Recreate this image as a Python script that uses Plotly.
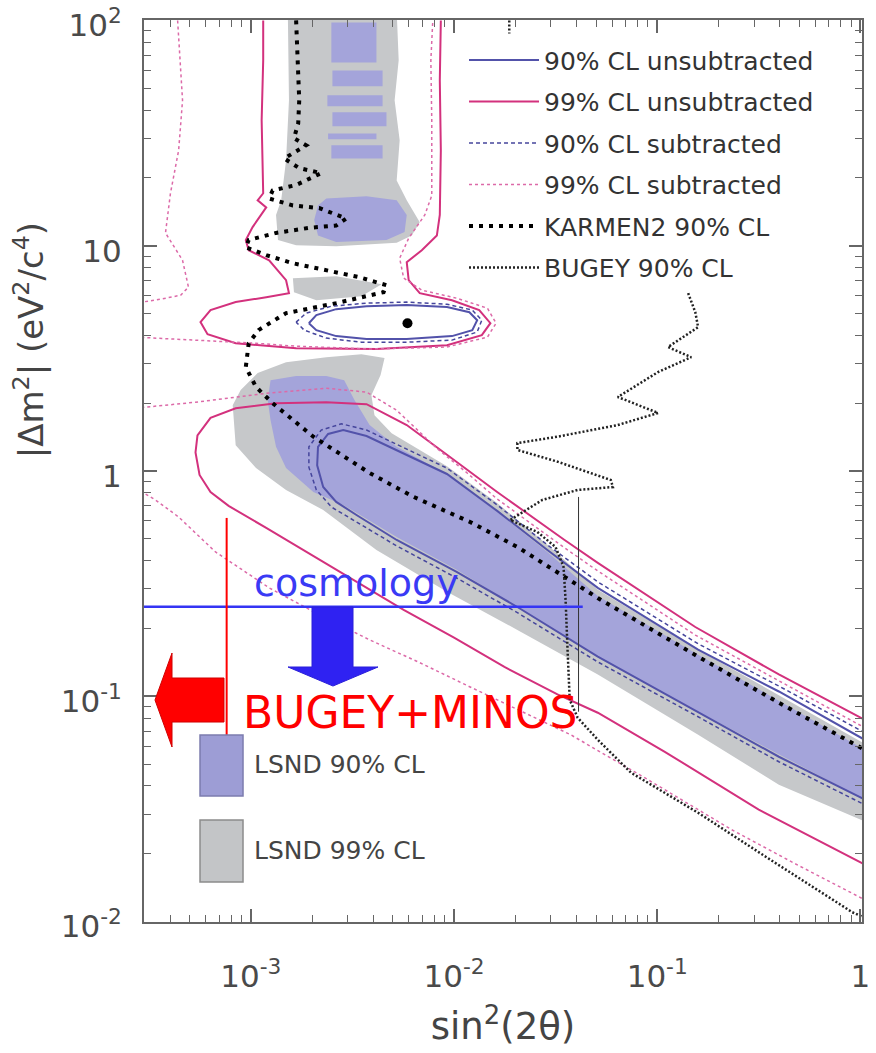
import plotly.graph_objects as go

# ---------------- data (sin^2(2theta), |dm^2| in eV^2/c^4) ----------------
# LSND 99% CL allowed regions (grey)
lsnd99_top_s2 = [1.52e-3, 5.22e-3, 5.34e-3, 5.10e-3, 5.40e-3, 5.22e-3, 5.85e-3, 6.78e-3, 6.19e-3,
                 5.22e-3, 2.63e-3, 1.67e-3, 1.36e-3, 1.33e-3, 1.41e-3, 1.49e-3, 1.54e-3]
lsnd99_top_dm2 = [110, 110, 66.5, 44.2, 29.4, 19.5, 15.9, 12.7, 11.1, 10.3, 9.95, 10.05, 10.6, 13.7,
                  15.9, 23.9, 44.2]
lsnd99_mid_s2 = [1.61e-3, 2.63e-3, 4.40e-3, 3.50e-3, 2.10e-3, 1.63e-3]
lsnd99_mid_dm2 = [7.18, 7.32, 6.75, 5.97, 5.73, 6.22]
lsnd99_band_s2 = [8.14e-4, 8.91e-4, 1.08e-3, 1.49e-3, 2.35e-3, 3.50e-3, 4.55e-3, 4.35e-3, 3.92e-3,
                  4.06e-3, 4.93e-3, 9.23e-3, 1.63e-2, 2.88e-2, 5.10e-2, 0.159, 1.05, 1.05, 0.397,
                  0.159, 5.10e-2, 2.05e-2, 9.23e-3, 4.15e-3, 2.27e-3, 1.49e-3, 1.06e-3, 8.42e-4]
lsnd99_band_dm2 = [1.96, 2.29, 2.72, 3.04, 3.20, 3.30, 3.17, 2.67, 2.17, 1.77, 1.47, 1.05, 0.721,
                   0.470, 0.297, 0.161, 0.0616, 0.0278, 0.0405, 0.0675, 0.125, 0.197, 0.291, 0.446,
                   0.672, 0.824, 1.03, 1.30]

# LSND 90% CL allowed regions (violet)
lsnd90_strips = [  # (s2 min, s2 max, dm2 min, dm2 max)
    (2.49e-3, 4.15e-3, 65.1, 98.0),
    (2.52e-3, 4.45e-3, 51.0, 60.0),
    (2.38e-3, 4.45e-3, 41.6, 46.5),
    (2.52e-3, 4.65e-3, 33.9, 39.1),
    (2.40e-3, 4.15e-3, 29.7, 31.5),
    (2.49e-3, 4.45e-3, 24.4, 27.9),
]
lsnd90_blob_s2 = [2.14e-3, 2.35e-3, 3.71e-3, 5.22e-3, 5.85e-3, 5.71e-3, 4.65e-3, 2.63e-3, 2.14e-3, 2.05e-3]
lsnd90_blob_dm2 = [15.1, 16.2, 16.6, 15.9, 13.7, 11.5, 10.6, 10.4, 11.1, 13.0]
lsnd90_band_s2 = [1.25e-3, 1.67e-3, 2.35e-3, 2.88e-3, 3.23e-3, 3.84e-3, 5.22e-3, 9.23e-3, 1.63e-2,
                  2.88e-2, 5.10e-2, 0.159, 1.05, 1.05, 0.159, 5.10e-2, 2.05e-2, 1.03e-2, 5.22e-3,
                  2.85e-3, 2.03e-3, 1.49e-3, 1.33e-3, 1.25e-3, 1.21e-3]
lsnd90_band_dm2 = [2.53, 2.64, 2.64, 2.53, 2.07, 1.60, 1.28, 0.970, 0.658, 0.437, 0.279, 0.153,
                   0.0579, 0.0348, 0.0854, 0.150, 0.249, 0.364, 0.510, 0.707, 0.807, 1.03, 1.28,
                   1.68, 2.07]

# 99% CL unsubtracted (solid magenta)
c99u_a_s2 = [1.15e-3, 1.15e-3, 1.13e-3, 1.15e-3, 1.08e-3, 1.19e-3, 1.02e-3, 9.44e-4, 9.76e-4, 1.23e-3,
             1.49e-3, 1.54e-3, 1.19e-3, 8.42e-4, 6.33e-4, 5.65e-4, 6.12e-4, 8.42e-4, 1.67e-3, 4.15e-3,
             9.23e-3, 1.37e-2, 1.51e-2, 1.33e-2, 9.77e-3, 6.78e-3, 5.98e-3, 5.85e-3, 6.94e-3, 8.23e-3,
             8.51e-3, 8.61e-3, 8.51e-3, 8.61e-3]
c99u_a_dm2 = [100, 66.5, 36.0, 17.1, 15.9, 14.8, 12.1, 10.6, 9.55, 8.62, 7.03, 6.16, 5.91, 5.62, 5.18,
              4.58, 4.05, 3.69, 3.51, 3.48, 3.62, 4.01, 4.53, 5.18, 5.73, 6.16, 7.03, 8.45, 9.55, 11.1,
              13.7, 26.5, 54.2, 100]
c99u_b_s2 = [1.05, 0.397, 0.154, 5.10e-2, 3.50e-2, 1.63e-2, 9.23e-3, 5.85e-3, 3.71e-3, 2.35e-3, 1.33e-3,
             8.42e-4, 6.33e-4, 5.46e-4, 5.34e-4, 5.59e-4, 6.33e-4, 7.77e-4, 1.19e-3, 1.81e-3, 3.20e-3,
             5.65e-3, 1.00e-2, 1.77e-2, 3.23e-2, 5.10e-2, 0.109, 0.316, 1.05]
c99u_b_dm2 = [0.0787, 0.125, 0.203, 0.391, 0.494, 0.807, 1.18, 1.60, 1.98, 2.02, 2.00, 1.90, 1.72,
              1.44, 1.21, 0.960, 0.807, 0.700, 0.559, 0.446, 0.329, 0.242, 0.182, 0.135, 0.102,
              0.0845, 0.0567, 0.0314, 0.0179]

# 99% CL subtracted (dotted pink)
c99s_a_s2 = [4.36e-4, 4.61e-4, 4.41e-4, 4.02e-4, 3.80e-4, 4.61e-4, 4.93e-4, 4.51e-4, 3.59e-4, 2.7e-4]
c99s_a_dm2 = [100, 44.2, 26.5, 17.1, 11.4, 8.62, 6.55, 6.03, 5.79, 5.56]
c99s_b_s2 = [2.7e-4, 5.34e-4, 1.06e-3, 1.67e-3, 3.84e-3, 9.23e-3, 1.46e-2, 1.61e-2, 1.46e-2, 1.03e-2,
             6.94e-3, 5.65e-3, 5.40e-3, 5.98e-3, 7.18e-3, 7.77e-3, 7.77e-3, 7.69e-3, 7.86e-3]
c99s_b_dm2 = [3.93, 3.81, 3.69, 3.58, 3.48, 3.55, 3.93, 4.53, 5.28, 5.85, 6.35, 7.18, 8.80, 10.8,
              13.7, 16.7, 36.0, 66.5, 100]
c99s_c_s2 = [2.7e-4, 5.34e-4, 1.23e-3, 2.35e-3, 3.71e-3, 5.22e-3, 8.23e-3, 1.16e-2, 1.63e-2, 3.50e-2,
             5.10e-2, 0.154, 1.05]
c99s_c_dm2 = [1.90, 2.02, 2.22, 2.33, 2.24, 1.86, 1.26, 0.980, 0.751, 0.456, 0.360, 0.187, 0.0725]
c99s_d_s2 = [2.7e-4, 3.39e-4, 4.41e-4, 6.70e-4, 1.23e-3, 2.17e-3, 3.84e-3, 6.78e-3, 1.20e-2, 2.12e-2,
             3.75e-2, 9.02e-2, 0.232, 0.498, 1.05]
c99s_d_dm2 = [0.841, 0.744, 0.625, 0.437, 0.303, 0.230, 0.178, 0.141, 0.110, 0.0862, 0.0675, 0.0426,
              0.0256, 0.0177, 0.0125]

# 90% CL unsubtracted (solid blue)
c90u_a_s2 = [1.93e-3, 2.10e-3, 2.63e-3, 3.71e-3, 5.85e-3, 9.23e-3, 1.19e-2, 1.30e-2, 1.23e-2, 9.77e-3,
             5.85e-3, 3.71e-3, 2.63e-3, 2.10e-3, 1.93e-3]
c90u_a_dm2 = [4.53, 4.92, 5.23, 5.39, 5.45, 5.34, 5.07, 4.67, 4.22, 3.97, 3.85, 3.85, 3.97, 4.22, 4.53]
c90u_b_s2 = [1.05, 0.397, 0.159, 5.10e-2, 2.88e-2, 1.63e-2, 9.23e-3, 5.22e-3, 3.71e-3, 2.85e-3, 2.40e-3,
             2.14e-3, 2.12e-3, 2.27e-3, 2.63e-3, 3.31e-3, 5.22e-3, 1.03e-2, 2.05e-2, 5.10e-2, 0.159,
             0.397, 1.05]
c90u_b_dm2 = [0.0641, 0.105, 0.161, 0.303, 0.446, 0.665, 0.970, 1.24, 1.43, 1.52, 1.46, 1.28, 1.06,
              0.849, 0.729, 0.638, 0.494, 0.357, 0.249, 0.150, 0.0854, 0.0539, 0.0348]

# 90% CL subtracted (dashed blue)
c90s_a_s2 = [1.67e-3, 1.87e-3, 2.49e-3, 3.71e-3, 5.85e-3, 9.23e-3, 1.23e-2, 1.37e-2, 1.30e-2, 9.77e-3,
             5.85e-3, 3.50e-3, 2.35e-3, 1.83e-3, 1.67e-3]
c90s_a_dm2 = [4.58, 5.02, 5.39, 5.56, 5.62, 5.50, 5.18, 4.67, 4.14, 3.81, 3.73, 3.73, 3.89, 4.22, 4.58]
c90s_b_s2 = [1.05, 0.397, 0.159, 5.10e-2, 2.88e-2, 1.63e-2, 9.23e-3, 5.22e-3, 3.71e-3, 2.79e-3, 2.22e-3,
             1.93e-3, 1.93e-3, 2.10e-3, 2.49e-3, 3.31e-3, 5.22e-3, 1.03e-2, 2.05e-2, 5.10e-2, 0.159,
             0.397, 1.05]
c90s_b_dm2 = [0.0689, 0.111, 0.171, 0.322, 0.470, 0.707, 1.03, 1.32, 1.52, 1.62, 1.52, 1.28, 1.04,
              0.824, 0.692, 0.594, 0.465, 0.335, 0.235, 0.142, 0.0811, 0.0512, 0.0330]

# KARMEN2 90% CL
karmen_s2 = [1.67e-3, 1.71e-3, 1.73e-3, 1.71e-3, 1.63e-3, 1.87e-3, 1.46e-3, 1.73e-3, 2.22e-3, 1.67e-3,
             1.28e-3, 1.23e-3, 1.61e-3, 2.17e-3, 2.95e-3, 2.63e-3, 1.93e-3, 1.33e-3, 9.76e-4, 9.44e-4,
             1.19e-3, 1.61e-3, 2.35e-3, 3.42e-3, 4.65e-3, 4.50e-3, 2.63e-3, 1.49e-3, 1.09e-3, 9.76e-4,
             9.44e-4, 1.06e-3, 1.28e-3, 2.03e-3, 3.84e-3, 6.33e-3, 1.20e-2, 2.05e-2, 3.50e-2, 5.10e-2,
             0.159, 0.397, 1.05]
karmen_dm2 = [100, 61.9, 44.2, 34.9, 30.0, 27.9, 24.4, 22.1, 21.0, 18.6, 17.6, 16.2, 15.1, 14.7, 13.2,
              12.3, 12.0, 11.4, 10.6, 9.85, 9.08, 8.36, 7.79, 7.25, 6.68, 6.22, 5.56, 5.02, 4.22, 3.69,
              2.89, 2.36, 2.00, 1.42, 0.980, 0.767, 0.594, 0.460, 0.339, 0.273, 0.150, 0.0936, 0.0579]

# BUGEY 90% CL
bugey_top_s2 = [1.87e-2, 1.87e-2]
bugey_top_dm2 = [100, 87.6]
bugey_s2 = [0.142, 0.154, 0.159, 0.139, 0.113, 0.147, 0.101, 0.0640, 0.101, 0.0640, 0.0323, 0.0205,
            0.0205, 0.0323, 0.0591, 0.0605, 0.0406, 0.0272, 0.0189, 0.0257, 0.0316, 0.0346, 0.0354,
            0.0362, 0.0371, 0.0406, 0.0510, 0.0743, 0.159, 0.342, 0.912, 1.05]
bugey_dm2 = [6.16, 5.07, 4.35, 4.01, 3.55, 3.20, 2.75, 2.13, 1.81, 1.60, 1.42, 1.33, 1.24, 1.10, 0.912,
             0.849, 0.824, 0.744, 0.606, 0.536, 0.460, 0.375, 0.268, 0.161, 0.0965, 0.0803, 0.0641,
             0.0458, 0.0304, 0.0194, 0.0110, 0.0104]
bugey_edge_s2 = [0.0410, 0.0410]
bugey_edge_dm2 = [0.767, 0.0854]

# best fit point
best_fit_s2 = [5.9e-3]
best_fit_dm2 = [4.53]

# overlaid limits
cosmology_dm2 = 0.25
cosmology_s2_span = [2.7e-4, 0.043]
bugey_minos_s2 = 7.6e-4
bugey_minos_dm2_span = [0.619, 0.0609]

legend_names = ["90% CL unsubtracted", "99% CL unsubtracted", "90% CL subtracted",
                "99% CL subtracted", "KARMEN2 90% CL", "BUGEY 90% CL"]
x_tickvals = [1e-3, 1e-2, 1e-1, 1]
x_ticktext = ["10<sup>-3</sup>", "10<sup>-2</sup>", "10<sup>-1</sup>", "1"]
y_tickvals = [1e-2, 1e-1, 1, 10, 100]
y_ticktext = ["10<sup>-2</sup>", "10<sup>-1</sup>", "1", "10", "10<sup>2</sup>"]


def chain(*parts):
    out = []
    for i, p in enumerate(parts):
        if i:
            out.append(None)
        out.extend(p)
    return out


def strip_polys(strips):
    xs, ys = [], []
    for (a, b, lo, hi) in strips:
        if xs:
            xs.append(None)
            ys.append(None)
        xs += [a, b, b, a, a]
        ys += [lo, lo, hi, hi, lo]
    return xs, ys


GREY = "#c6c8ca"
VIOLET = "#a4a4da"
MAGENTA = "#d3317d"
PINK = "#dc6aa8"
BLUE = "#5252aa"
DBLUE = "#45459c"

fig = go.Figure()

# filled regions
fig.add_trace(go.Scatter(x=chain(lsnd99_top_s2, lsnd99_mid_s2, lsnd99_band_s2),
                         y=chain(lsnd99_top_dm2, lsnd99_mid_dm2, lsnd99_band_dm2),
                         fill="toself", fillcolor=GREY, mode="none", showlegend=False,
                         hoverinfo="skip"))
sx, sy = strip_polys(lsnd90_strips)
fig.add_trace(go.Scatter(x=chain(sx, lsnd90_blob_s2, lsnd90_band_s2),
                         y=chain(sy, lsnd90_blob_dm2, lsnd90_band_dm2),
                         fill="toself", fillcolor=VIOLET, mode="none", showlegend=False,
                         hoverinfo="skip"))

# contour lines (added in legend order)
fig.add_trace(go.Scatter(x=chain(c90u_a_s2, c90u_b_s2), y=chain(c90u_a_dm2, c90u_b_dm2),
                         mode="lines", name=legend_names[0], legendgroup="a",
                         line=dict(color=BLUE, width=2), hoverinfo="skip"))
fig.add_trace(go.Scatter(x=chain(c99u_a_s2, c99u_b_s2), y=chain(c99u_a_dm2, c99u_b_dm2),
                         mode="lines", name=legend_names[1], legendgroup="b",
                         line=dict(color=MAGENTA, width=2), hoverinfo="skip"))
fig.add_trace(go.Scatter(x=chain(c90s_a_s2, c90s_b_s2), y=chain(c90s_a_dm2, c90s_b_dm2),
                         mode="lines", name=legend_names[2], legendgroup="c",
                         line=dict(color=DBLUE, width=1.5, dash="4px,3px"), hoverinfo="skip"))
fig.add_trace(go.Scatter(x=chain(c99s_a_s2, c99s_b_s2, c99s_c_s2, c99s_d_s2),
                         y=chain(c99s_a_dm2, c99s_b_dm2, c99s_c_dm2, c99s_d_dm2),
                         mode="lines", name=legend_names[3], legendgroup="d",
                         line=dict(color=PINK, width=1.5, dash="3px,3px"), hoverinfo="skip"))
fig.add_trace(go.Scatter(x=karmen_s2, y=karmen_dm2, mode="lines", name=legend_names[4],
                         legendgroup="e", line=dict(color="black", width=4, dash="4px,6px"),
                         hoverinfo="skip"))
fig.add_trace(go.Scatter(x=chain(bugey_top_s2, bugey_s2), y=chain(bugey_top_dm2, bugey_dm2),
                         mode="lines", name=legend_names[5], legendgroup="f",
                         line=dict(color="#222", width=2.5, dash="2px,2px"), hoverinfo="skip"))
fig.add_trace(go.Scatter(x=bugey_edge_s2, y=bugey_edge_dm2, mode="lines", showlegend=False,
                         line=dict(color="#333", width=1), hoverinfo="skip"))
fig.add_trace(go.Scatter(x=best_fit_s2, y=best_fit_dm2, mode="markers", showlegend=False,
                         marker=dict(color="black", size=10), hoverinfo="skip"))

# cosmology and BUGEY+MINOS limits
fig.add_trace(go.Scatter(x=cosmology_s2_span, y=[cosmology_dm2, cosmology_dm2], mode="lines",
                         showlegend=False, line=dict(color="#3434f4", width=2.5), hoverinfo="skip"))
fig.add_trace(go.Scatter(x=[bugey_minos_s2, bugey_minos_s2], y=bugey_minos_dm2_span, mode="lines",
                         showlegend=False, line=dict(color="#ff0000", width=2), hoverinfo="skip"))

# arrows (paper coordinates)
fig.add_shape(type="path", xref="paper", yref="paper",
              path="M0.2340,0.3492 L0.2911,0.3492 L0.2911,0.2827 L0.3259,0.2827 L0.2632,0.2616 "
                   "L0.2006,0.2827 L0.2340,0.2827 Z",
              fillcolor="#2f22f2", line=dict(color="#2a1fd8", width=1))
fig.add_shape(type="path", xref="paper", yref="paper",
              path="M0.1114,0.2705 L0.1114,0.2217 L0.0390,0.2217 L0.0390,0.1940 L0.0153,0.2461 "
                   "L0.0390,0.2982 L0.0390,0.2705 Z",
              fillcolor="#ff0000", line=dict(color="#d00000", width=1))

# LSND key boxes
fig.add_shape(type="rect", xref="paper", yref="paper", x0=0.0780, x1=0.1379, y0=0.1397, y1=0.2073,
              fillcolor="#9d9dd5", line=dict(color="#7c7cae", width=1.5))
fig.add_shape(type="rect", xref="paper", yref="paper", x0=0.0780, x1=0.1379, y0=0.0443, y1=0.1131,
              fillcolor="#c3c5c7", line=dict(color="#8c8c8c", width=1.5))
fig.add_annotation(text="LSND 90% CL", xref="paper", yref="paper", x=0.1504, y=0.1741,
                   xanchor="left", yanchor="middle", showarrow=False,
                   font=dict(family="DejaVu Sans", size=25, color="#444"))
fig.add_annotation(text="LSND 99% CL", xref="paper", yref="paper", x=0.1504, y=0.0798,
                   xanchor="left", yanchor="middle", showarrow=False,
                   font=dict(family="DejaVu Sans", size=25, color="#444"))

fig.add_annotation(text="cosmology", xref="paper", yref="paper", x=0.2960, y=0.3758,
                   xanchor="center", yanchor="middle", showarrow=False,
                   font=dict(family="Comic Sans MS, DejaVu Sans", size=38, color="#3a3af5"))
fig.add_annotation(text="BUGEY+MINOS", xref="paper", yref="paper", x=0.3705, y=0.2328,
                   xanchor="center", yanchor="middle", showarrow=False,
                   font=dict(family="Comic Sans MS, DejaVu Sans", size=44, color="#ff0000"))

# y-axis title
fig.add_annotation(text="|Δm<sup>2</sup>| (eV<sup>2</sup>/c<sup>4</sup>)", xref="paper", yref="paper",
                   x=-0.160, y=0.645, textangle=-90, xanchor="center", yanchor="middle",
                   showarrow=False, font=dict(family="DejaVu Sans", size=34, color="#444"))

minor_x = [k * 10.0 ** d for d in (-4, -3, -2, -1) for k in range(2, 10)]
minor_y = [k * 10.0 ** d for d in (-2, -1, 0, 1) for k in range(2, 10)]
axis_style = dict(type="log", showline=True, linecolor="#666", linewidth=2, mirror="ticks",
                  ticks="inside", ticklen=13, tickwidth=1.5, tickcolor="#666", showgrid=False,
                  zeroline=False, ticklabeloverflow="allow", automargin=False,
                  tickfont=dict(family="DejaVu Sans", size=31, color="#4a4a4a"))
fig.update_xaxes(**axis_style, range=[-3.526, 0.008], tickmode="array", tickvals=x_tickvals,
                 ticktext=x_ticktext, ticklabelstandoff=26,
                 minor=dict(ticks="inside", ticklen=7, tickwidth=1, tickcolor="#666",
                            tickmode="array", tickvals=minor_x, showgrid=False),
                 title=dict(text="sin<sup>2</sup>(2θ)", standoff=20,
                            font=dict(family="DejaVu Sans", size=37, color="#444")))
fig.update_yaxes(**axis_style, range=[-2.002, 2.002], tickmode="array", tickvals=y_tickvals,
                 ticktext=y_ticktext, ticklabelstandoff=14, ticklabelshift=5,
                 minor=dict(ticks="inside", ticklen=7, tickwidth=1, tickcolor="#666",
                            tickmode="array", tickvals=minor_y, showgrid=False))

fig.update_layout(
    width=876, height=1053,
    margin=dict(l=144, r=14, t=20, b=131, autoexpand=False),
    paper_bgcolor="white", plot_bgcolor="white",
    font=dict(family="DejaVu Sans", color="#444"),
    legend=dict(x=0.4457, y=0.981, xanchor="left", yanchor="top", bgcolor="rgba(0,0,0,0)",
                font=dict(family="DejaVu Sans", size=25, color="#333"), itemwidth=70,
                traceorder="grouped", tracegroupgap=6),
)

fig.write_html("out.html")
